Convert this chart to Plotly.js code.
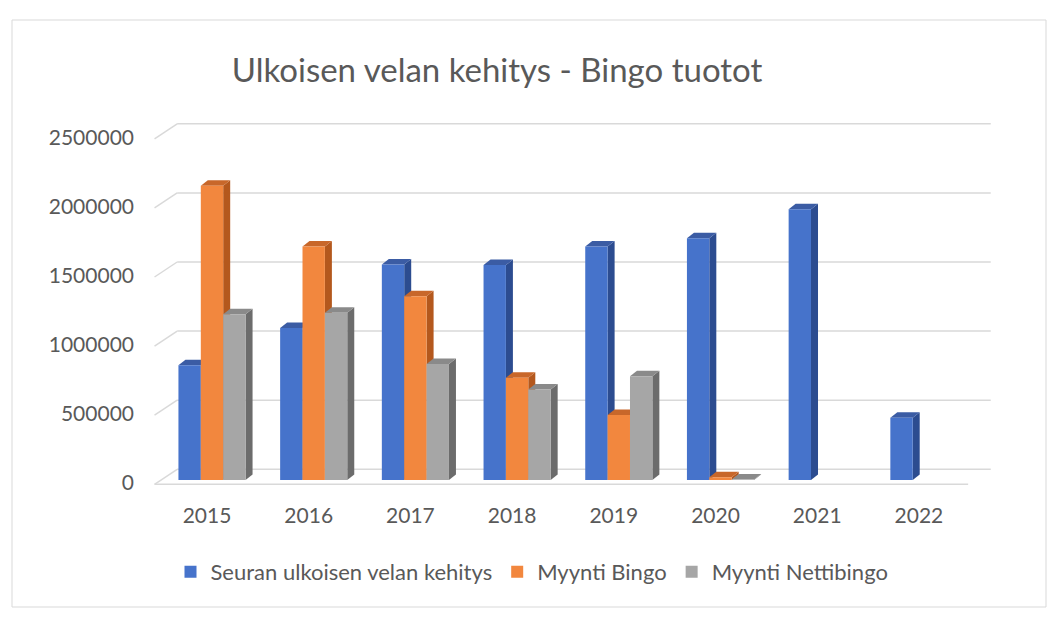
<!DOCTYPE html>
<html>
<head>
<meta charset="utf-8">
<script src="https://cdn.plot.ly/plotly-3.0.1.min.js"></script>
<style>
html,body{margin:0;padding:0;background:#fff;}
#chart{width:1059px;height:627px;}
</style>
</head>
<body>
<div id="chart"></div>
<script>
// ---- data ----
const years = ['2015', '2016', '2017', '2018', '2019', '2020', '2021', '2022'];
const seriesNames = ['Seuran ulkoisen velan kehitys', 'Myynti Bingo', 'Myynti Nettibingo'];
const velka = [830000, 1100000, 1560000, 1555000, 1690000, 1750000, 1960000, 450000];
const bingo = [2130000, 1690000, 1330000, 740000, 470000, 20000, null, null];
const nettibingo = [1200000, 1210000, 840000, 655000, 750000, 3000, null, null];
const yTicks = [0, 500000, 1000000, 1500000, 2000000, 2500000];

// ---- styling / geometry ----
const W = 1059, H = 627;
const M = {l: 150, r: 59, t: 115, b: 137};
const plotW = W - M.l - M.r, plotH = H - M.t - M.b;
const U = 101.7;              // px per category
const V = 138.2 / 1e6;        // px per value unit
const xMin = -(212 - M.l) / U, xMax = xMin + plotW / U;
const yMin = -((H - M.b) - 480) / V, yMax = yMin + plotH / V;
const barW = 0.22;
const offsets = [-0.33, -0.11, 0.11];
const frontCols = ['#4673cb', '#f2873e', '#a6a6a6'];
const sideCols = ['#2c4c90', '#b4581d', '#6c6c6c'];
const topCols = ['#3b5ca4', '#c8672a', '#8a8a8a'];
const depthX = 7 / U, depthY = 5.5 / V;
const backX = 16 / U, backY = 10.7 / V;
const frontX = -6.6 / U, frontY = -4.3 / V;
const gridCol = '#d9d9d9';
const txtCol = '#595959';
const FONT = 'Lato, "Open Sans", sans-serif';

const series = [velka, bingo, nettibingo];
const idx = years.map((_, i) => i);

const traces = series.map((vals, k) => ({
  type: 'bar',
  name: seriesNames[k],
  x: idx,
  y: vals,
  width: barW,
  offset: offsets[k],
  marker: {color: frontCols[k], line: {width: 0}},
  hoverinfo: 'skip'
}));

const shapes = [];
const P = (x, y) => x + ',' + y;
// back wall gridlines and side wall lines
yTicks.forEach(v => {
  shapes.push({type: 'line', xref: 'x', yref: 'y', layer: 'below',
    x0: -0.5 + backX, x1: years.length - 0.5 + backX, y0: v + backY, y1: v + backY,
    line: {color: gridCol, width: 1.5}});
  shapes.push({type: 'line', xref: 'x', yref: 'y', layer: 'below',
    x0: -0.5 + frontX, x1: -0.5 + backX, y0: v + frontY, y1: v + backY,
    line: {color: gridCol, width: 1.5}});
});
// front floor edge
shapes.push({type: 'line', xref: 'x', yref: 'y', layer: 'below',
  x0: -0.5 + frontX, x1: years.length - 0.5 + frontX, y0: frontY, y1: frontY,
  line: {color: gridCol, width: 1.5}});

// 3D faces of bars
idx.forEach(i => {
  series.forEach((vals, k) => {
    const v = vals[i];
    if (v === null || v === undefined) return;
    const xl = i + offsets[k], xr = xl + barW;
    shapes.push({type: 'path', xref: 'x', yref: 'y', layer: 'below',
      path: 'M' + P(xr, 0) + 'L' + P(xr + depthX, depthY) + 'L' + P(xr + depthX, v + depthY) + 'L' + P(xr, v) + 'Z',
      fillcolor: sideCols[k], line: {width: 0}});
    shapes.push({type: 'path', xref: 'x', yref: 'y', layer: 'below',
      path: 'M' + P(xl, v) + 'L' + P(xl + depthX, v + depthY) + 'L' + P(xr + depthX, v + depthY) + 'L' + P(xr, v) + 'Z',
      fillcolor: topCols[k], line: {width: 0}});
  });
});

// outer chart border
shapes.push({type: 'rect', xref: 'paper', yref: 'paper',
  x0: (12 - M.l) / plotW, x1: (1046 - M.l) / plotW,
  y0: ((H - M.b) - 607) / plotH, y1: ((H - M.b) - 20) / plotH,
  line: {color: '#d9d9d9', width: 1}, fillcolor: 'rgba(0,0,0,0)'});

const layout = {
  width: W, height: H,
  margin: M,
  paper_bgcolor: '#ffffff',
  plot_bgcolor: 'rgba(0,0,0,0)',
  barmode: 'overlay',
  showlegend: true,
  font: {family: FONT, color: txtCol, size: 21},
  title: {
    text: 'Ulkoisen velan kehitys - Bingo tuotot',
    font: {family: FONT, size: 33, color: txtCol},
    xref: 'container', x: 497 / W, xanchor: 'center',
    yref: 'container', y: 1 - 70 / H, yanchor: 'middle'
  },
  xaxis: {
    type: 'linear', range: [xMin, xMax],
    tickvals: idx, ticktext: years,
    showgrid: false, zeroline: false, showline: false, ticks: '',
    ticklabelstandoff: 11, ticklabelshift: -5,
    tickfont: {family: FONT, size: 21, color: txtCol},
    fixedrange: true
  },
  yaxis: {
    type: 'linear', range: [yMin, yMax],
    tickvals: yTicks, ticktext: yTicks.map(String),
    showgrid: false, zeroline: false, showline: false, ticks: '',
    ticklabelstandoff: 15, ticklabelshift: 3,
    tickfont: {family: FONT, size: 21, color: txtCol},
    fixedrange: true
  },
  legend: {
    orientation: 'h',
    xref: 'container', x: 532 / W, xanchor: 'center',
    yref: 'container', y: 1 - 572 / H, yanchor: 'middle',
    font: {family: FONT, size: 22, color: txtCol},
    bgcolor: 'rgba(0,0,0,0)'
  },
  shapes: shapes
};

Plotly.newPlot('chart', traces, layout, {displayModeBar: false, staticPlot: true});
</script>
</body>
</html>
